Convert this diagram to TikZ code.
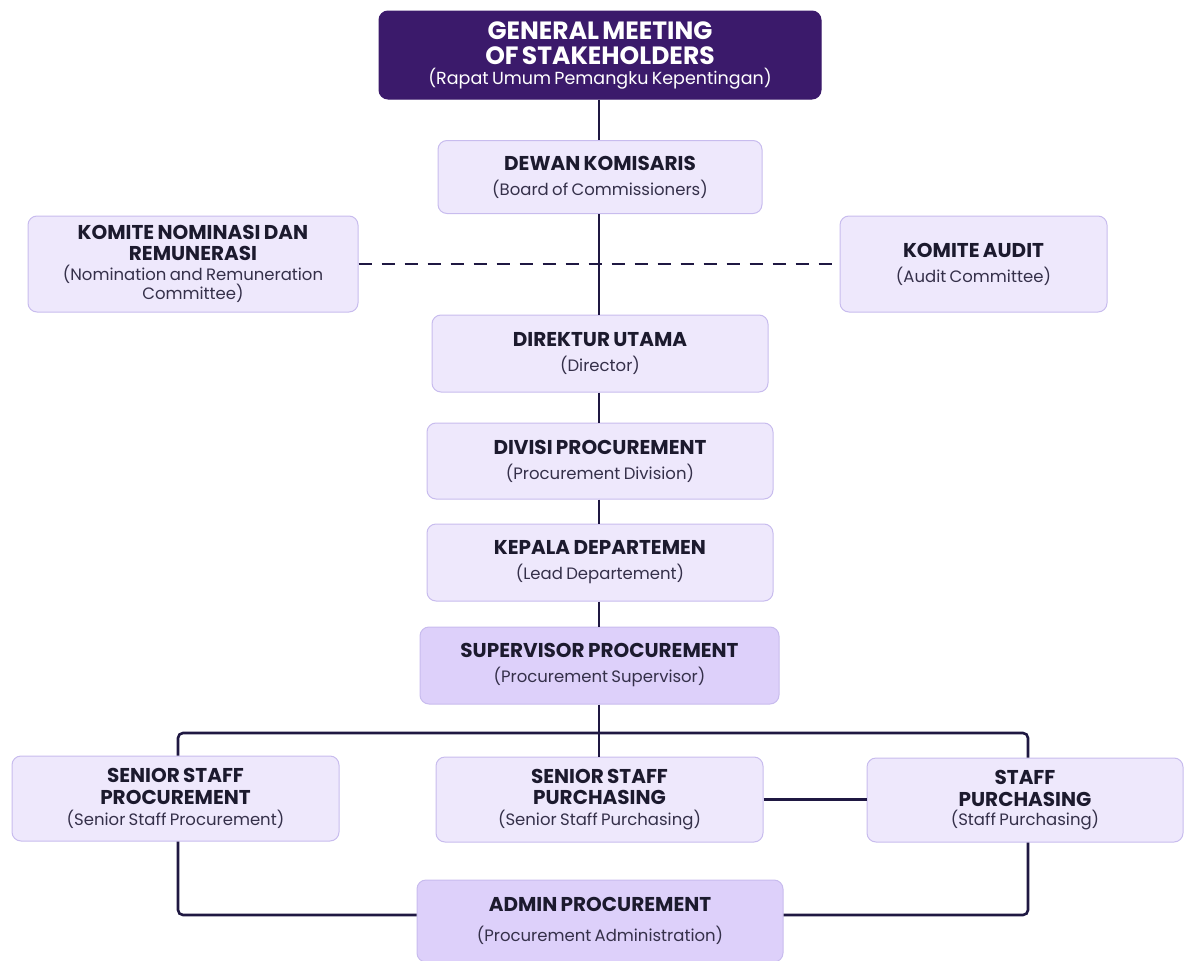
\documentclass[tikz,border=0pt]{standalone}
\usepackage{fontspec}
\setmainfont{Poppins}
\usetikzlibrary{positioning}
\definecolor{gmfill}{HTML}{3B1A6B}
\definecolor{boxfill}{HTML}{EEE8FC}
\definecolor{boxdark}{HTML}{DDD0FA}
\definecolor{boxline}{HTML}{C8BCEE}
\definecolor{linkcol}{HTML}{1F1842}
\definecolor{txtcol}{HTML}{1C1A2E}
\definecolor{subcol}{HTML}{35304A}
\tikzset{
    unit/.style={
        rectangle,
        rounded corners=9pt,
        draw=boxline,
        line width=1pt,
        fill=boxfill,      % light lavender boxes
        text=txtcol,
        align=center,
        inner sep=0pt      % sizes are fixed below
    },
    unitdark/.style={unit, fill=boxdark},
    link/.style={draw=linkcol, line width=2.6pt, rounded corners=5pt},
    dashlink/.style={draw=linkcol, line width=2pt, dash pattern=on 13pt off 10pt}
}
\newcommand{\ttl}[1]{{\fontsize{20}{21.5}\selectfont\bfseries #1\par}}
\newcommand{\subl}[1]{{\fontsize{16.5}{19}\selectfont\color{subcol}#1\par}}
\begin{document}
\begin{tikzpicture}[x=1pt, y=-1pt]
\useasboundingbox (0,0) rectangle (1184,961);
% top
\node[unit, fill=gmfill, draw=gmfill, text=white, minimum width=442pt, minimum height=88pt, text width=430pt]
    (gm) at (600,55) {{\fontsize{25}{25}\selectfont\bfseries GENERAL MEETING\\OF STAKEHOLDERS\par}\vspace{1pt}
    {\fontsize{17.5}{19}\selectfont (Rapat Umum Pemangku Kepentingan)\par}};
\node[unit, minimum width=324pt, minimum height=73pt, text width=310pt] (dk) at (600,177)
    {\ttl{DEWAN KOMISARIS}\vspace{6pt}\subl{(Board of Commissioners)}};
% committees
\node[unit, minimum width=330pt, minimum height=96pt, text width=320pt] (knr) at (193,264)
    {\ttl{KOMITE NOMINASI DAN\\REMUNERASI}\vspace{1pt}\subl{(Nomination and Remuneration\\Committee)}};
\node[unit, minimum width=267pt, minimum height=96pt, text width=250pt] (ka) at (973.5,264)
    {\ttl{KOMITE AUDIT}\vspace{6pt}\subl{(Audit Committee)}};
% main chain
\node[unit, minimum width=336pt, minimum height=77pt, text width=320pt] (du) at (600,353.5)
    {\ttl{DIREKTUR UTAMA}\vspace{6pt}\subl{(Director)}};
\node[unit, minimum width=346pt, minimum height=76pt, text width=330pt] (dp) at (600,461)
    {\ttl{DIVISI PROCUREMENT}\vspace{6pt}\subl{(Procurement Division)}};
\node[unit, minimum width=346pt, minimum height=77pt, text width=330pt] (kd) at (600,562.5)
    {\ttl{KEPALA DEPARTEMEN}\vspace{6pt}\subl{(Lead Departement)}};
\node[unitdark, minimum width=359pt, minimum height=77pt, text width=350pt] (sp) at (599.5,665.5)
    {\ttl{SUPERVISOR PROCUREMENT}\vspace{6pt}\subl{(Procurement Supervisor)}};
% staff
\node[unit, minimum width=327pt, minimum height=85pt, text width=315pt] (ssp) at (175.5,798.5)
    {\ttl{SENIOR STAFF\\PROCUREMENT}\vspace{2pt}\subl{(Senior Staff Procurement)}};
\node[unit, minimum width=327pt, minimum height=85pt, text width=315pt] (sspu) at (599.5,799.5)
    {\ttl{SENIOR STAFF\\PURCHASING}\vspace{2pt}\subl{(Senior Staff Purchasing)}};
\node[unit, minimum width=316pt, minimum height=84pt, text width=305pt] (spu) at (1025,800)
    {\ttl{STAFF\\PURCHASING}\vspace{0pt}\subl{(Staff Purchasing)}};
\node[unitdark, minimum width=366pt, minimum height=82pt, text width=355pt] (ap) at (600,921)
    {\ttl{ADMIN PROCUREMENT}\vspace{11pt}\subl{(Procurement Administration)}};
% connectors
\coordinate (bus) at (599,733);
\draw[link] (gm.south -| bus) -- (dk.north -| bus);
\draw[link] (dk.south -| bus) -- (du.north -| bus);
\draw[link] (du.south -| bus) -- (dp.north -| bus);
\draw[link] (dp.south -| bus) -- (kd.north -| bus);
\draw[link] (kd.south -| bus) -- (sp.north -| bus);
\draw[dashlink] (knr.east) -- (ka.west);
\draw[link] (sp.south -| bus) -- (sspu.north -| bus);
\draw[link] (ssp.north -| 178,0) -- (178,733) -- (1028,733) -- (spu.north -| 1028,0);
\draw[link] (sspu.east) -- (sspu.east -| spu.west);
\draw[link] (ssp.south -| 178,0) -- (178,915) -- (ap.west |- 0,915);
\draw[link] (spu.south -| 1028,0) -- (1028,915) -- (ap.east |- 0,915);
\end{tikzpicture}
\end{document}
